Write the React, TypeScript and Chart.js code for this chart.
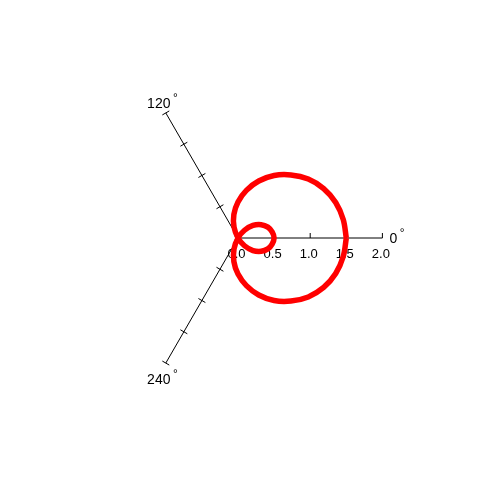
import React, { useEffect, useRef } from "react";
import { Chart, registerables } from "chart.js";

Chart.register(...registerables);

const angles = [0, 10, 20, 30, 40, 50, 60, 70, 80, 90, 100, 110, 120, 130, 140, 150, 160, 170, 180,
  190, 200, 210, 220, 230, 240, 250, 260, 270, 280, 290, 300, 310, 320, 330, 340, 350, 360];
const radii = [1.5, 1.48, 1.44, 1.37, 1.27, 1.14, 1.0, 0.84, 0.67, 0.5, 0.33, 0.16, 0.0, -0.14, -0.27, -0.37, -0.44, -0.48, -0.5,
  -0.48, -0.44, -0.37, -0.27, -0.14, 0.0, 0.16, 0.33, 0.5, 0.67, 0.84, 1.0, 1.14, 1.27, 1.37, 1.44, 1.48, 1.5];
const spokeAngles = [0, 120, 240];
const spokeLabels = ["0", "120", "240"];
const radialTicks = [0.0, 0.5, 1.0, 1.5, 2.0];
const radialTickLabels = ["0.0", "0.5", "1.0", "1.5", "2.0"];
const radialMax = 2.0;

const FONT = '"Liberation Sans", Arial, sans-serif';

const spokePlugin = {
  id: "spokes",
  beforeDatasetsDraw(chart: any) {
    const ctx = chart.ctx;
    const xs = chart.scales.x;
    const ys = chart.scales.y;
    const px = (r: number, a: number) => xs.getPixelForValue(r * Math.cos((a * Math.PI) / 180));
    const py = (r: number, a: number) => ys.getPixelForValue(r * Math.sin((a * Math.PI) / 180));
    ctx.save();
    ctx.strokeStyle = "#000";
    ctx.lineWidth = 1;
    spokeAngles.forEach((a) => {
      ctx.beginPath();
      ctx.moveTo(px(0, a), py(0, a));
      ctx.lineTo(px(radialMax, a), py(radialMax, a));
      ctx.stroke();
      const rad = (a * Math.PI) / 180;
      const nx = Math.sin(rad);
      const ny = Math.cos(rad);
      radialTicks.forEach((t) => {
        if (a === 0 && t === 0) return;
        const cx = px(t, a);
        const cy = py(t, a);
        ctx.beginPath();
        if (a === 0) {
          ctx.moveTo(cx, cy);
          ctx.lineTo(cx, cy - 5);
        } else {
          ctx.moveTo(cx - nx * 4, cy - ny * 4);
          ctx.lineTo(cx + nx * 4, cy + ny * 4);
        }
        ctx.stroke();
      });
    });
    ctx.fillStyle = "#000";
    ctx.font = `13px ${FONT}`;
    ctx.textAlign = "center";
    ctx.textBaseline = "alphabetic";
    radialTicks.forEach((t, i) => {
      ctx.fillText(radialTickLabels[i], px(t, 0) - 1.5, py(t, 0) + 20);
    });
    const drawDeg = (txt: string, x: number, y: number, align: "left" | "center") => {
      ctx.font = `14px ${FONT}`;
      ctx.textAlign = align;
      ctx.textBaseline = "middle";
      ctx.fillText(txt, x, y);
      const w = ctx.measureText(txt).width;
      const right = align === "left" ? x + w : x + w / 2;
      ctx.font = `12px ${FONT}`;
      ctx.textAlign = "left";
      ctx.fillText("°", right + 2.5, y - 5);
    };
    spokeAngles.forEach((a, i) => {
      const ex = px(radialMax, a);
      const ey = py(radialMax, a);
      if (a === 0) drawDeg(spokeLabels[i], ex + 7, ey + 1, "left");
      else if (a === 120) drawDeg(spokeLabels[i], ex - 7, ey - 9, "center");
      else drawDeg(spokeLabels[i], ex - 7, ey + 17, "center");
    });
    ctx.restore();
  },
};

export default function App() {
  const ref = useRef<HTMLCanvasElement>(null);
  useEffect(() => {
    document.body.style.margin = "0";
    const pts = angles.map((a, i) => ({
      x: radii[i] * Math.cos((a * Math.PI) / 180),
      y: radii[i] * Math.sin((a * Math.PI) / 180),
    }));
    const scale = 72.2;
    const chart = new Chart(ref.current as HTMLCanvasElement, {
      type: "scatter",
      data: {
        datasets: [
          {
            data: pts,
            showLine: true,
            borderColor: "#ff0000",
            backgroundColor: "#ff0000",
            borderWidth: 5.5,
            pointRadius: 0,
            tension: 0.35,
            fill: false,
          },
        ],
      },
      options: {
        responsive: false,
        animation: false,
        layout: { padding: 0 },
        plugins: { legend: { display: false }, tooltip: { enabled: false } },
        scales: {
          x: { type: "linear", display: false, min: -238 / scale, max: 240 / scale },
          y: { type: "linear", display: false, min: -240 / scale, max: 238 / scale },
        },
      },
      plugins: [spokePlugin],
    } as any);
    return () => chart.destroy();
  }, []);
  return <canvas ref={ref} width={478} height={478} style={{ display: "block", background: "#fff" }} />;
}
